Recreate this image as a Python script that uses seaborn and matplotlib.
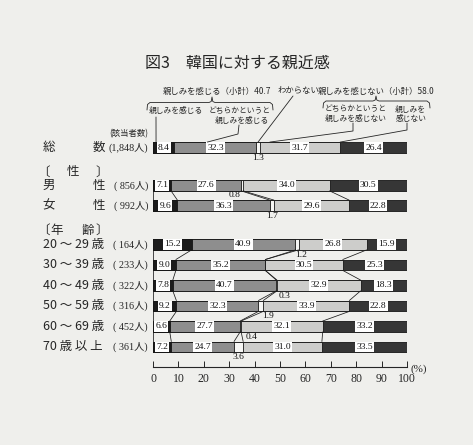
import matplotlib
matplotlib.use("Agg")
import matplotlib.pyplot as plt
import numpy as np
import pandas as pd
import seaborn as sns

# ---------------- data ----------------
categories = ["総数", "男性", "女性", "20～29歳", "30～39歳", "40～49歳",
              "50～59歳", "60～69歳", "70歳以上"]
row_labels = ["総　　　数", "男　　　性", "女　　　性", "20 ～ 29 歳", "30 ～ 39 歳",
              "40 ～ 49 歳", "50 ～ 59 歳", "60 ～ 69 歳", "70 歳 以 上"]
respondents = ["1,848", " 856", " 992", " 164", " 233", " 322", " 316", " 452", " 361"]
feel_close = [8.4, 7.1, 9.6, 15.2, 9.0, 7.8, 9.2, 6.6, 7.2]
somewhat_close = [32.3, 27.6, 36.3, 40.9, 35.2, 40.7, 32.3, 27.7, 24.7]
dont_know = [1.3, 0.8, 1.7, 1.2, 0.0, 0.3, 1.9, 0.4, 3.6]
somewhat_not = [31.7, 34.0, 29.6, 26.8, 30.5, 32.9, 33.9, 32.1, 31.0]
not_close = [26.4, 30.5, 22.8, 15.9, 25.3, 18.3, 22.8, 33.2, 33.5]
subtotals = [40.7, 58.0]
x_ticks = [0, 10, 20, 30, 40, 50, 60, 70, 80, 90, 100]

# ---------------- layout / style ----------------
W, H = 473, 445
paper = "#efefec"
ink = "#262626"
seg_cols = ["feel", "somewhat", "dk", "snot", "not"]
seg_colors = ["#1b1b1b", "#8e8e8e", "#f6f6f4", "#cdcdcb", "#363636"]
ypos = [0, 1.85, 2.83, 4.73, 5.73, 6.73, 7.73, 8.73, 9.73]
bar_h = 0.53
groups = [[1, 2], [3, 4, 5, 6, 7, 8]]
dk_dx = [0, -2.8, 0, 1.5, 0, 3.0, 3.0, 4.5, 0]

sns.set_theme(style="white")
plt.rcParams["font.family"] = ["Liberation Serif", "Noto Sans CJK JP", "DejaVu Sans"]
plt.rcParams["text.color"] = ink
CJK = ["Noto Sans CJK JP", "DejaVu Sans"]

fig = plt.figure(figsize=(W / 100, H / 100), dpi=100)
fig.patch.set_facecolor(paper)

ax_l, ax_r, ax_t, ax_b = 153, 407, 128, 367
UNIT = 20.5
Y0 = 147.5
ax = fig.add_axes([ax_l / W, 1 - ax_b / H, (ax_r - ax_l) / W, (ax_b - ax_t) / H])
ax.set_facecolor("none")

df = pd.DataFrame({"pos": ypos, "feel": feel_close, "somewhat": somewhat_close,
                   "dk": dont_know, "snot": somewhat_not, "not": not_close})
cum = df[seg_cols].cumsum(axis=1)
min_gap = np.diff(sorted(ypos)).min()

for col, colr in reversed(list(zip(seg_cols, seg_colors))):
    sns.barplot(x=cum[col], y=df["pos"], orient="h", native_scale=True,
                width=bar_h / min_gap, color=colr, saturation=1,
                edgecolor="#151515", linewidth=0.6, errorbar=None, ax=ax)

ax.set_xlim(0, 100)
ax.set_ylim((ax_b - Y0) / UNIT, (ax_t - Y0) / UNIT)
ax.set_xlabel("")
ax.set_ylabel("")
ax.set_yticks([])
ax.set_xticks(x_ticks)
ax.set_xticklabels([str(t) for t in x_ticks])
ax.tick_params(axis="x", direction="in", length=4, width=0.7, colors=ink,
               labelsize=8.5, pad=4, bottom=True)
for s in ["top", "right", "left"]:
    ax.spines[s].set_visible(False)
ax.spines["bottom"].set_color(ink)
ax.spines["bottom"].set_linewidth(0.8)
ax.grid(False)

# value labels
box = dict(boxstyle="square,pad=0.12", fc="white", ec="none")
for i in range(len(categories)):
    for col in ["feel", "somewhat", "snot", "not"]:
        v = df.loc[i, col]
        xc = cum.loc[i, col] - v / 2
        ax.text(xc, ypos[i], f"{v:.1f}", ha="center", va="center", fontsize=6.8,
                color="#111", bbox=box, zorder=5)
    v = df.loc[i, "dk"]
    if v > 0:
        xc = cum.loc[i, "dk"] - v / 2 + dk_dx[i]
        ax.text(xc, ypos[i] + bar_h / 2 + 0.03, f"{v:.1f}", ha="center", va="top",
                fontsize=6.8, color="#111", zorder=5)

# connector lines between neighbouring bars
for g in groups:
    for a, b in zip(g[:-1], g[1:]):
        for k in range(5):
            xa = 0 if k == 0 else cum.loc[a, seg_cols[k - 1]]
            xb = 0 if k == 0 else cum.loc[b, seg_cols[k - 1]]
            ax.plot([xa, xb], [ypos[a] + bar_h / 2, ypos[b] - bar_h / 2],
                    color="#1a1a1a", lw=0.55, clip_on=False, zorder=4)

# ---------------- overlay (pixel coordinates) ----------------
ov = fig.add_axes([0, 0, 1, 1], zorder=10)
ov.set_xlim(0, W)
ov.set_ylim(H, 0)
ov.axis("off")
ov.patch.set_alpha(0)


def to_px(x, y):
    d = ax.transData.transform((x, y))
    return d[0], H - d[1]


ov.text(145, 63, "図3　韓国に対する親近感", fontsize=11.5, ha="left", va="center",
        family=CJK, color=ink)

# header labels
ov.text(217, 91, f"親しみを感じる（小計）{subtotals[0]}", fontsize=6, ha="center",
        va="center", family=CJK)
ov.text(298, 91, "わからない", fontsize=6, ha="center", va="center", family=CJK)
ov.text(376, 91, f"親しみを感じない（小計）{subtotals[1]}", fontsize=6, ha="center",
        va="center", family=CJK)


def brace(x0, x1, xm, ytop, yend, ytick):
    r = 3
    xs = [x0, x0 + 0.5, x0 + r, xm - 3, xm - 0.8, xm, xm + 0.8, xm + 3, x1 - r, x1 - 0.5, x1]
    ys = [yend, ytop + 2, ytop, ytop, ytop - 1, ytick, ytop - 1, ytop, ytop, ytop + 2, yend]
    ov.plot(xs, ys, color=ink, lw=0.6)


brace(147, 273, 212, 102.5, 110, 97)
brace(323, 430, 376, 101, 108, 96)

ov.text(176, 111, "親しみを感じる", fontsize=5.6, ha="center", va="center", family=CJK)
ov.text(240, 111, "どちらかというと", fontsize=5.6, ha="center", va="center", family=CJK)
ov.text(242, 121, "親しみを感じる", fontsize=5.6, ha="center", va="center", family=CJK)
ov.text(356, 109.5, "どちらかというと", fontsize=5.6, ha="center", va="center", family=CJK)
ov.text(356, 119, "親しみを感じない", fontsize=5.6, ha="center", va="center", family=CJK)
ov.text(410, 109.5, "親しみを", fontsize=5.6, ha="center", va="center", family=CJK)
ov.text(411, 119, "感じない", fontsize=5.6, ha="center", va="center", family=CJK)
ov.text(148, 134, "(該当者数)", fontsize=6, ha="right", va="center", family=CJK)

top0 = ypos[0] - bar_h / 2
lines = [
    [(156, 117), to_px(1.2, top0)],
    [(239, 125), (238, 134), to_px(cum.loc[0, "feel"] + 13, top0)],
    [(293, 96), to_px(cum.loc[0, "dk"] - dont_know[0] / 2, top0)],
    [(353, 123), (353, 131), to_px(cum.loc[0, "dk"] + 4, top0)],
    [(407, 123), (407, 130), to_px(cum.loc[0, "snot"], top0)],
]
for pts in lines:
    xs, ys = zip(*pts)
    ov.plot(xs, ys, color=ink, lw=0.6)

# left labels
for i, lab in enumerate(row_labels):
    _, yp = to_px(0, ypos[i])
    ov.text(43, yp, lab, fontsize=9, ha="left", va="center", family=CJK, color=ink)
    ov.text(148, yp, f"({respondents[i]}人)", fontsize=7.3, ha="right", va="center",
            color=ink)

ov.text(43, 172, "〔", fontsize=9, ha="center", va="center", family=CJK)
ov.text(73, 172, "性", fontsize=9, ha="center", va="center", family=CJK)
ov.text(102, 172, "〕", fontsize=9, ha="center", va="center", family=CJK)
ov.text(43, 230.5, "〔", fontsize=9, ha="center", va="center", family=CJK)
ov.text(57, 230.5, "年", fontsize=9, ha="center", va="center", family=CJK)
ov.text(88, 230.5, "齢", fontsize=9, ha="center", va="center", family=CJK)
ov.text(102, 230.5, "〕", fontsize=9, ha="center", va="center", family=CJK)

ov.text(410, 369, "(%)", fontsize=8, ha="left", va="center", color=ink)

fig.savefig("out.png", dpi=100, facecolor=paper)
